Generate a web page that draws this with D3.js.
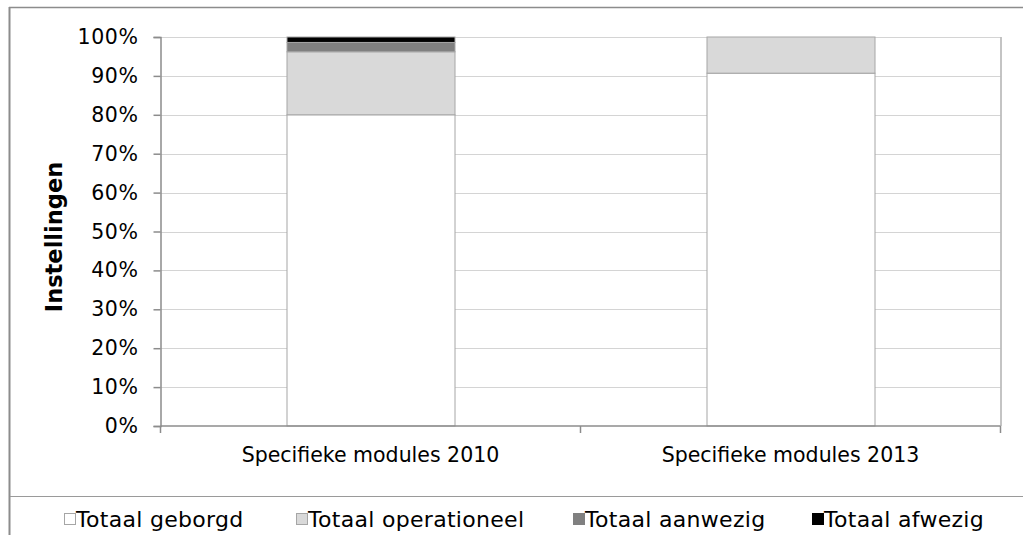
<!DOCTYPE html>
<html>
<head>
<meta charset="utf-8">
<script src="https://cdn.jsdelivr.net/npm/d3@7"></script>
<style>
  body { margin: 0; background: #fff; }
  svg { display: block; font-family: "DejaVu Sans", Verdana, sans-serif; }
</style>
</head>
<body>
<div id="chart"></div>
<script>
// categories and series (share of institutions, %)
const categories = ["Specifieke modules 2010", "Specifieke modules 2013"];
const seriesNames = ["Totaal geborgd", "Totaal operationeel", "Totaal aanwezig", "Totaal afwezig"];
const geborgd = [80.0, 90.7];
const operationeel = [16.2, 9.3];
const aanwezig = [2.4, 0];
const afwezig = [1.4, 0];
const yTicks = [0, 10, 20, 30, 40, 50, 60, 70, 80, 90, 100];

const colors = ["#ffffff", "#d9d9d9", "#808080", "#000000"];

const W = 1023, H = 535;
const margin = {top: 37, right: 23, bottom: 109, left: 160.5},
    width = 840,
    height = 389;

const svg = d3.select("#chart").append("svg")
    .attr("width", W)
    .attr("height", H);

// outer chart frame (left + top, legend separator)
svg.append("line").attr("x1", 9.5).attr("x2", 9.5).attr("y1", 7).attr("y2", H)
    .attr("stroke", "#8c8c8c").attr("stroke-width", 2);
svg.append("line").attr("x1", 9).attr("x2", W).attr("y1", 7.5).attr("y2", 7.5)
    .attr("stroke", "#8c8c8c").attr("stroke-width", 1.5);
svg.append("line").attr("x1", 10).attr("x2", W).attr("y1", 496.5).attr("y2", 496.5)
    .attr("stroke", "#9a9a9a").attr("stroke-width", 1);

const g = svg.append("g").attr("transform", "translate(" + margin.left + "," + margin.top + ")");

const x = d3.scaleBand().domain(categories).range([0, width])
    .paddingInner(0.6).paddingOuter(0.3);
const y = d3.scaleLinear().domain([0, 100]).range([height, 0]);

// gridlines
g.append("g").selectAll("line")
  .data(yTicks.filter(d => d > 0))
  .join("line")
    .attr("x1", 0).attr("x2", width)
    .attr("y1", d => Math.round(y(d)) + 0.5).attr("y2", d => Math.round(y(d)) + 0.5)
    .attr("stroke", "#d4d4d4").attr("stroke-width", 1.2);
// right border of plot
g.append("line").attr("x1", width + 0.5).attr("x2", width + 0.5).attr("y1", 0).attr("y2", height)
    .attr("stroke", "#b0b0b0").attr("stroke-width", 1.5);

// stacked data
const table = categories.map((c, i) => ({
  cat: c,
  "Totaal geborgd": geborgd[i],
  "Totaal operationeel": operationeel[i],
  "Totaal aanwezig": aanwezig[i],
  "Totaal afwezig": afwezig[i]
}));
const stacked = d3.stack().keys(seriesNames)(table);

g.append("g").selectAll("g")
  .data(stacked)
  .join("g")
    .attr("fill", (d, i) => colors[i])
  .selectAll("rect")
  .data(d => d.filter(p => p[1] - p[0] > 0))
  .join("rect")
    .attr("x", d => x(d.data.cat) + 0.5)
    .attr("width", x.bandwidth())
    .attr("y", d => y(d[1]))
    .attr("height", d => y(d[0]) - y(d[1]))
    .attr("stroke", (d) => "#a6a6a6")
    .attr("stroke-width", 1);

// y axis
const yAxis = g.append("g")
    .call(d3.axisLeft(y).tickValues(yTicks).tickFormat(d => d + "%").tickSize(7).tickPadding(15));
yAxis.select(".domain").attr("stroke", "#8c8c8c").attr("stroke-width", 1.5);
yAxis.selectAll(".tick line").attr("stroke", "#8c8c8c").attr("stroke-width", 1.5);
yAxis.selectAll("text").attr("font-size", 20.5).attr("fill", "#000")
    .attr("font-family", "DejaVu Sans").attr("letter-spacing", 0.6);

// x axis: ticks at category boundaries
const xAxisG = g.append("g").attr("transform", "translate(0," + height + ")");
xAxisG.append("line").attr("x1", 0).attr("x2", width).attr("y1", 0).attr("y2", 0)
    .attr("stroke", "#8c8c8c").attr("stroke-width", 1.5);
const bounds = [0, width / 2, width];
xAxisG.selectAll("line.tk").data(bounds).join("line").attr("class", "tk")
    .attr("x1", d => d).attr("x2", d => d).attr("y1", 0).attr("y2", 7)
    .attr("stroke", "#8c8c8c").attr("stroke-width", 1.5);
xAxisG.selectAll("text").data(categories).join("text")
    .attr("x", d => x(d) + x.bandwidth() / 2)
    .attr("y", 36)
    .attr("text-anchor", "middle")
    .attr("font-size", 20.5)
    .attr("fill", "#000")
    .text(d => d);

// y axis title
svg.append("text")
    .attr("transform", "translate(62,237) rotate(-90)")
    .attr("text-anchor", "middle")
    .attr("font-size", 22.5)
    .attr("font-weight", "bold")
    .attr("fill", "#000")
    .text("Instellingen");

// legend
const legendX = [64, 296, 573, 812];
const legend = svg.append("g").selectAll("g")
  .data(seriesNames)
  .join("g")
    .attr("transform", (d, i) => "translate(" + legendX[i] + ",513)");
legend.append("rect")
    .attr("x", 0.5).attr("y", 0.5).attr("width", 11).attr("height", 11)
    .attr("fill", (d, i) => colors[i])
    .attr("stroke", (d, i) => i < 2 ? "#a6a6a6" : colors[i]);
legend.append("text")
    .attr("x", 12).attr("y", 14)
    .attr("font-size", 22)
    .attr("letter-spacing", 0.3)
    .attr("fill", "#000")
    .text(d => d);
</script>
</body>
</html>
